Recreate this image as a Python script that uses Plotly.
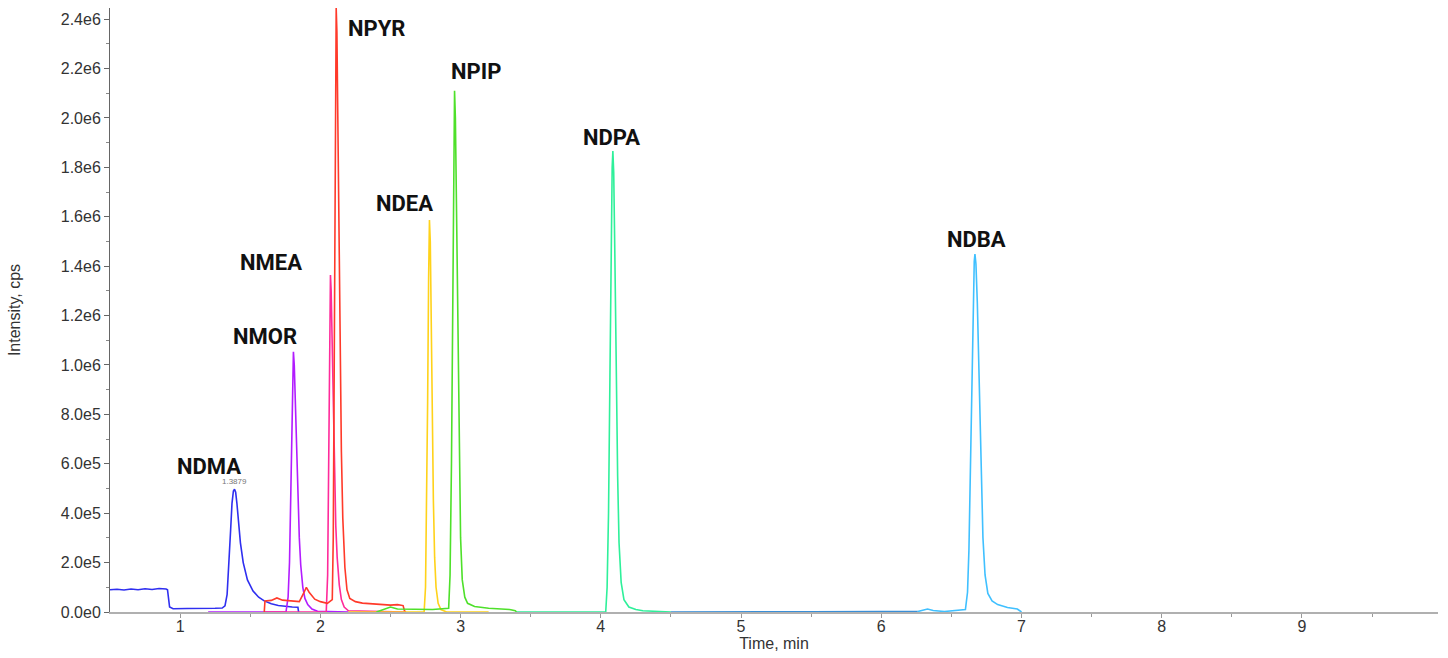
import plotly.graph_objects as go

# ---- data (time in min, intensity in 1e6 cps) ----
ndma_t = [0.50, 0.55, 0.60, 0.65, 0.70, 0.75, 0.80, 0.85, 0.90, 0.91, 0.925, 0.95, 1.05, 1.15, 1.25, 1.30,
          1.32, 1.335, 1.35, 1.36, 1.37, 1.38, 1.388, 1.396, 1.405, 1.415, 1.43, 1.45, 1.48, 1.52, 1.56,
          1.60, 1.65, 1.70, 1.75, 1.80, 1.84, 1.845]
ndma_i = [0.090, 0.092, 0.089, 0.093, 0.090, 0.094, 0.091, 0.095, 0.093, 0.090, 0.020, 0.013, 0.014, 0.013, 0.015, 0.016,
          0.025, 0.07, 0.20, 0.33, 0.44, 0.49, 0.497, 0.485, 0.44, 0.37, 0.28, 0.20, 0.13, 0.085, 0.060,
          0.045, 0.033, 0.026, 0.022, 0.020, 0.019, 0.0]

nmor_t = [1.20, 1.755, 1.77, 1.78, 1.79, 1.797, 1.803, 1.808, 1.814, 1.82, 1.83, 1.84, 1.85, 1.86, 1.875,
          1.89, 1.91, 1.94, 1.98, 2.20]
nmor_i = [0.0, 0.0, 0.06, 0.20, 0.50, 0.80, 1.00, 1.053, 1.00, 0.88, 0.65, 0.45, 0.30, 0.19, 0.10,
          0.055, 0.03, 0.012, 0.003, 0.0]

nmea_t = [1.60, 2.042, 2.052, 2.058, 2.063, 2.068, 2.072, 2.077, 2.083, 2.09, 2.10, 2.11, 2.12, 2.135,
          2.15, 2.17, 2.20, 2.60]
nmea_i = [0.0, 0.0, 0.15, 0.50, 0.90, 1.25, 1.364, 1.30, 1.10, 0.85, 0.55, 0.35, 0.22, 0.11,
          0.05, 0.02, 0.005, 0.0]

npyr_t = [1.60, 1.605, 1.65, 1.69, 1.73, 1.80, 1.85, 1.88, 1.90, 1.92, 1.96, 2.00, 2.05, 2.085, 2.092, 2.098,
          2.104, 2.109, 2.113, 2.118, 2.124, 2.132, 2.14, 2.15, 2.16, 2.175, 2.19, 2.21, 2.25, 2.30, 2.40,
          2.50, 2.55, 2.59, 2.60, 2.61]
npyr_i = [0.0, 0.045, 0.047, 0.057, 0.048, 0.045, 0.042, 0.075, 0.100, 0.080, 0.052, 0.042, 0.035, 0.05, 0.30, 0.90,
          1.60, 2.20, 2.445, 2.35, 2.00, 1.50, 1.05, 0.65, 0.38, 0.18, 0.09, 0.055, 0.042, 0.036, 0.032,
          0.028, 0.030, 0.026, 0.005, 0.0]

ndea_t = [2.20, 2.74, 2.75, 2.758, 2.765, 2.772, 2.778, 2.784, 2.79, 2.798, 2.806, 2.815, 2.825, 2.84,
          2.86, 2.90, 3.20]
ndea_i = [0.0, 0.0, 0.10, 0.40, 0.85, 1.35, 1.587, 1.50, 1.20, 0.80, 0.45, 0.22, 0.10, 0.035,
          0.01, 0.0, 0.0]

npip_t = [2.40, 2.45, 2.50, 2.55, 2.65, 2.80, 2.915, 2.925, 2.935, 2.943, 2.951, 2.957, 2.963, 2.97, 2.978,
          2.988, 3.00, 3.012, 3.03, 3.05, 3.10, 3.20, 3.35, 3.39, 3.40]
npip_i = [0.0, 0.010, 0.020, 0.012, 0.010, 0.010, 0.015, 0.15, 0.60, 1.30, 1.90, 2.11, 2.00, 1.65, 1.15,
          0.65, 0.30, 0.13, 0.06, 0.035, 0.022, 0.015, 0.010, 0.005, 0.0]

ndpa_t = [3.40, 4.035, 4.045, 4.055, 4.065, 4.074, 4.081, 4.086, 4.092, 4.10, 4.11, 4.12, 4.13, 4.145,
          4.165, 4.20, 4.25, 4.30, 4.50]
ndpa_i = [0.0, 0.0, 0.10, 0.40, 0.95, 1.50, 1.80, 1.866, 1.78, 1.45, 0.95, 0.55, 0.28, 0.12,
          0.05, 0.02, 0.01, 0.005, 0.0]

base_t = [4.50, 5.00, 5.50, 6.00, 6.26]
base_i = [0.0, 0.002, 0.001, 0.002, 0.002]

ndba_t = [6.26, 6.30, 6.33, 6.37, 6.45, 6.60, 6.615, 6.625, 6.635, 6.645, 6.655, 6.663, 6.668, 6.675,
          6.685, 6.695, 6.705, 6.715, 6.725, 6.74, 6.76, 6.79, 6.83, 6.90, 6.97, 7.00]
ndba_i = [0.002, 0.008, 0.012, 0.006, 0.002, 0.01, 0.08, 0.25, 0.55, 0.90, 1.25, 1.42, 1.449, 1.41,
          1.25, 1.00, 0.72, 0.48, 0.30, 0.15, 0.075, 0.045, 0.030, 0.018, 0.012, 0.0]

labels = ["NDMA", "NMOR", "NMEA", "NPYR", "NDEA", "NPIP", "NDPA", "NDBA"]
label_t = [1.207, 1.607, 1.650, 2.400, 2.600, 3.107, 4.079, 6.679]
label_i = [0.587, 1.117, 1.413, 2.364, 1.652, 2.186, 1.919, 1.506]

ytick_vals = [0.0, 0.2, 0.4, 0.6, 0.8, 1.0, 1.2, 1.4, 1.6, 1.8, 2.0, 2.2, 2.4]
ytick_text = ["0.0e0", "2.0e5", "4.0e5", "6.0e5", "8.0e5", "1.0e6", "1.2e6", "1.4e6",
              "1.6e6", "1.8e6", "2.0e6", "2.2e6", "2.4e6"]
xtick_vals = [1, 2, 3, 4, 5, 6, 7, 8, 9]

traces = [
    (ndma_t, ndma_i, "#2f2ff0"),
    (nmor_t, nmor_i, "#b21cff"),
    (nmea_t, nmea_i, "#ff2a9a"),
    (npyr_t, npyr_i, "#ff3a2a"),
    (ndea_t, ndea_i, "#ffd21a"),
    (npip_t, npip_i, "#4ee02a"),
    (ndpa_t, ndpa_i, "#2ef09a"),
    (base_t, base_i, "#3a8ed6"),
    (ndba_t, ndba_i, "#40c0ff"),
]

fig = go.Figure()
for t, i, c in traces:
    fig.add_trace(go.Scatter(x=t, y=[v * 1e6 for v in i], mode="lines",
                             line=dict(color=c, width=1.6), hoverinfo="skip"))

# small arrow marker on the y axis
fig.add_trace(go.Scatter(x=[0.466], y=[0.13e6], mode="markers", cliponaxis=False,
                         marker=dict(symbol="triangle-right", size=7, color="#1a2a8a")))

for txt, t, v in zip(labels, label_t, label_i):
    fig.add_annotation(x=t, y=v * 1e6, text=txt, showarrow=False,
                       font=dict(family="Roboto", size=22, color="#111111", weight="bold"))

k = ndma_i.index(max(ndma_i))
fig.add_annotation(x=ndma_t[k], y=ndma_i[k] * 1e6, text="1.3879", showarrow=False,
                   yanchor="bottom", yshift=1,
                   font=dict(family="Liberation Sans", size=8, color="#777777"))

fig.update_layout(
    width=1448, height=658,
    margin=dict(l=110, r=10, t=8, b=46),
    paper_bgcolor="white", plot_bgcolor="white",
    showlegend=False,
    font=dict(family="Liberation Sans", size=16, color="#333333"),
)
fig.update_xaxes(range=[0.5, 9.97], tickvals=xtick_vals, ticks="outside", ticklen=4,
                 tickcolor="#999999", showline=True, linecolor="#b0b0b0", linewidth=2,
                 showgrid=False, zeroline=False, automargin=False, ticklabelstandoff=-5,
                 minor=dict(tickvals=[1.5, 2.5, 3.5, 4.5, 5.5, 6.5, 7.5, 8.5, 9.5],
                            ticks="outside", ticklen=3, tickcolor="#999999"),
                 title=dict(text="Time, min", font=dict(size=16, color="#333333"), standoff=2))
fig.update_yaxes(range=[0, 2.445e6], tickvals=[v * 1e6 for v in ytick_vals], ticktext=ytick_text,
                 ticks="outside", ticklen=5, tickcolor="#666666", showline=True,
                 linecolor="#666666", linewidth=1, showgrid=False, zeroline=False, automargin=False,
                 minor=dict(tickvals=[(v + 0.1) * 1e6 for v in ytick_vals[:-1]],
                            ticks="outside", ticklen=3, tickcolor="#888888"),
                 title=dict(text="Intensity, cps", font=dict(size=16, color="#333333"), standoff=36))

fig.write_html("out.html")
